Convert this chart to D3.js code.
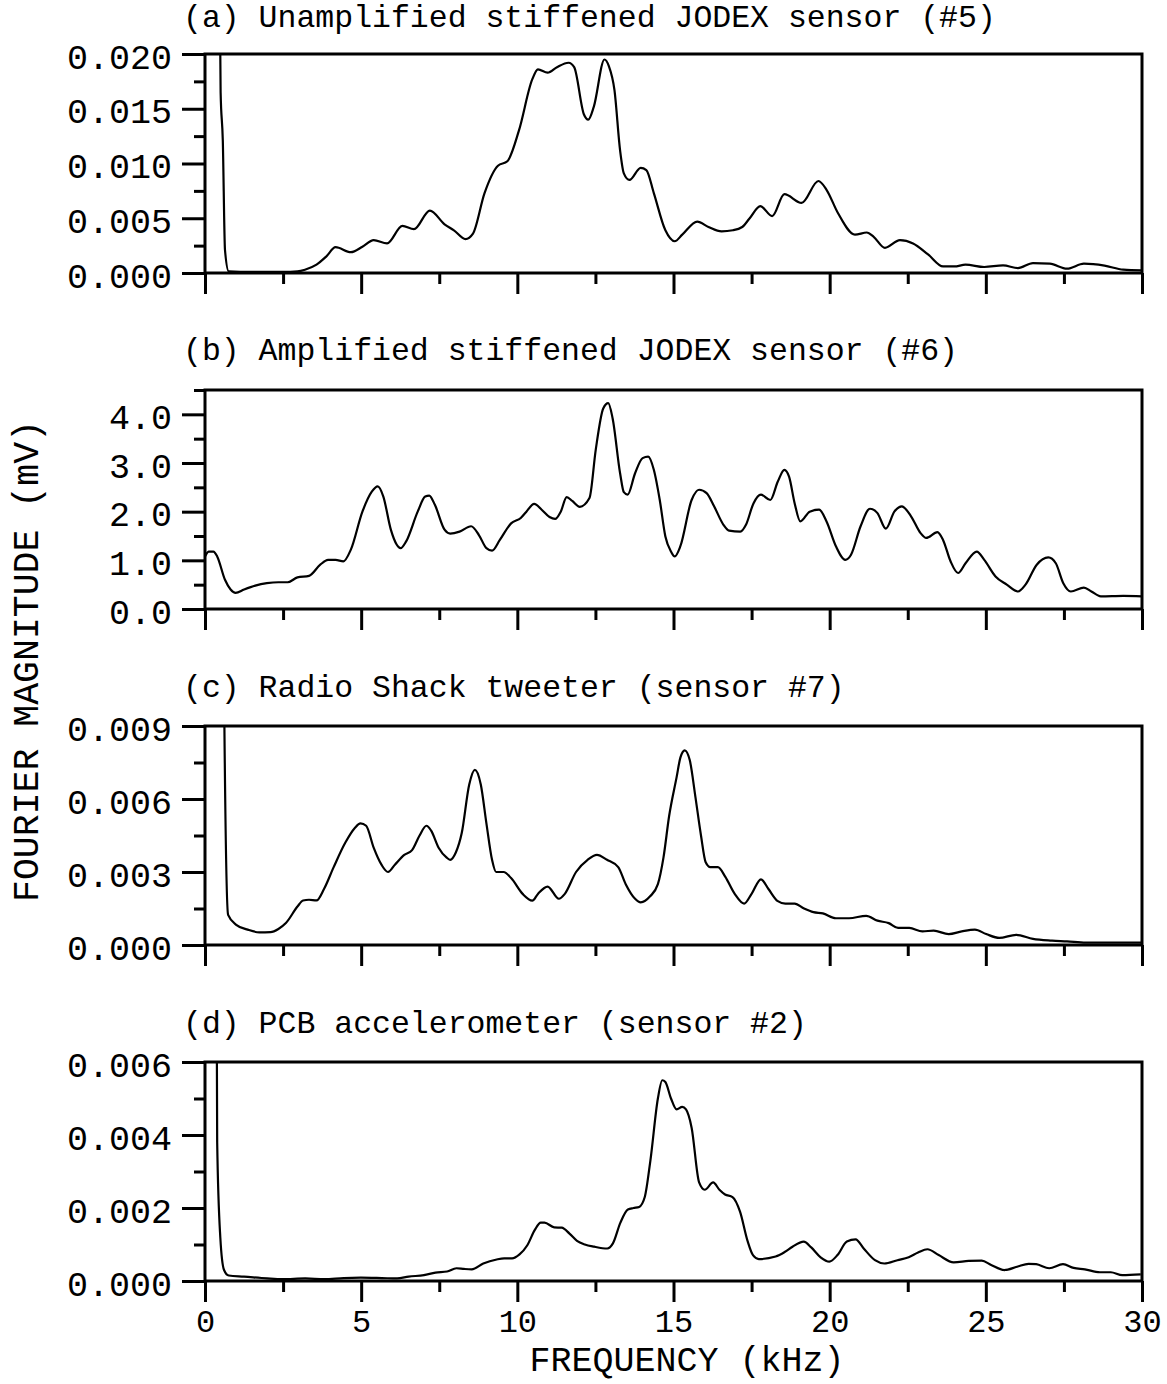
<!DOCTYPE html>
<html><head><meta charset="utf-8">
<script src="https://cdn.jsdelivr.net/npm/d3@7"></script>
<style>body{margin:0;background:#fff} svg{display:block}</style>
</head><body>
<script>
// ---------- data ----------
const titles = [
  "(a) Unamplified stiffened JODEX sensor (#5)",
  "(b) Amplified stiffened JODEX sensor (#6)",
  "(c) Radio Shack tweeter (sensor #7)",
  "(d) PCB accelerometer (sensor #2)"
];
const xLabel = "FREQUENCY (kHz)";
const yLabel = "FOURIER MAGNITUDE (mV)";
const xMajorTicks = [0, 5, 10, 15, 20, 25, 30];
const xMinorTicks = [2.5, 7.5, 12.5, 17.5, 22.5, 27.5];

const yMaxA = 0.020, yMajorA = [0, 0.005, 0.010, 0.015, 0.020], yMinorA = [0.0025, 0.0075, 0.0125, 0.0175];
const yMaxB = 4.5,   yMajorB = [0, 1, 2, 3, 4], yMinorB = [0.5, 1.5, 2.5, 3.5, 4.5];
const yMaxC = 0.009, yMajorC = [0, 0.003, 0.006, 0.009], yMinorC = [0.0015, 0.0045, 0.0075];
const yMaxD = 0.006, yMajorD = [0, 0.002, 0.004, 0.006], yMinorD = [0.001, 0.003, 0.005];

const freqA = [0.40,0.50,0.57,0.64,0.76,1.5,2.5,2.96,3.2,3.57,3.88,4.18,4.67,5.04,5.40,5.83,6.32,6.69,7.20,7.67,7.97,8.34,8.58,8.95,9.38,9.68,10.05,10.48,10.66,10.97,11.27,11.64,11.82,12.13,12.27,12.45,12.79,12.93,13.11,13.29,13.41,13.59,13.95,14.13,14.37,14.74,15.04,15.28,15.76,16.12,16.54,16.9,17.2,17.44,17.78,18.16,18.55,19.1,19.64,19.9,20.26,20.81,21.19,21.41,21.77,22.25,22.67,23.15,23.63,23.99,24.35,24.95,25.55,26.03,26.51,27.05,27.6,28.14,28.8,29.4,30.0];
const magA  = [0.050,0.0165,0.0121,0.0021,0.00015,0.0001,0.0001,0.00015,0.0003,0.00076,0.0015,0.00236,0.0019,0.0024,0.0030,0.0027,0.0043,0.0040,0.0057,0.00445,0.0039,0.0031,0.0036,0.0073,0.0098,0.0102,0.0130,0.0177,0.0186,0.0183,0.0188,0.0192,0.0188,0.0145,0.0140,0.0152,0.0195,0.0189,0.0167,0.0112,0.0091,0.0085,0.0096,0.0094,0.0073,0.0039,0.0029,0.0035,0.0047,0.0042,0.0038,0.0039,0.0042,0.0050,0.0061,0.0052,0.0072,0.0064,0.0084,0.0076,0.0055,0.0035,0.0037,0.0033,0.0023,0.0030,0.0027,0.0017,0.0006,0.0006,0.00076,0.00055,0.0007,0.00045,0.0009,0.00085,0.0004,0.00085,0.00067,0.0003,0.00024];

const freqB = [0,0.12,0.27,0.39,0.64,0.82,0.98,1.25,1.61,1.98,2.35,2.65,2.96,3.33,3.69,3.94,4.18,4.43,4.67,5.04,5.34,5.53,5.71,5.95,6.14,6.26,6.44,6.81,7.05,7.18,7.36,7.67,7.85,8.15,8.52,8.77,9.01,9.19,9.44,9.8,10.11,10.29,10.54,10.78,11.03,11.21,11.39,11.58,11.76,12.0,12.31,12.51,12.75,12.91,13.05,13.29,13.41,13.53,13.77,14.01,14.19,14.37,14.56,14.74,14.92,15.04,15.22,15.58,15.82,16.06,16.3,16.6,16.78,17.14,17.32,17.56,17.8,18.1,18.34,18.55,18.7,18.88,19.06,19.36,19.66,19.9,20.2,20.5,20.68,20.99,21.29,21.53,21.8,22.07,22.31,22.61,22.91,23.09,23.45,23.63,23.87,24.11,24.35,24.71,24.95,25.31,25.67,26.03,26.27,26.63,27.0,27.24,27.48,27.72,28.14,28.38,28.68,29.4,30.0];
const magB  = [1.08,1.18,1.18,1.08,0.60,0.40,0.33,0.40,0.48,0.53,0.55,0.55,0.65,0.68,0.91,1.01,1.01,0.98,1.22,2.0,2.41,2.52,2.31,1.63,1.32,1.25,1.39,2.0,2.31,2.33,2.14,1.63,1.55,1.59,1.70,1.52,1.25,1.20,1.42,1.76,1.87,2.0,2.16,2.04,1.89,1.85,2.0,2.3,2.22,2.1,2.28,3.27,4.12,4.23,3.92,2.79,2.40,2.35,2.79,3.10,3.13,2.86,2.24,1.49,1.18,1.08,1.29,2.24,2.45,2.38,2.11,1.73,1.61,1.59,1.73,2.17,2.35,2.24,2.62,2.86,2.72,2.17,1.80,2.0,2.04,1.80,1.29,1.01,1.11,1.70,2.06,1.97,1.65,2.0,2.11,1.90,1.56,1.46,1.58,1.42,0.98,0.74,0.94,1.18,1.01,0.67,0.50,0.36,0.50,0.91,1.06,0.94,0.53,0.36,0.44,0.36,0.26,0.27,0.26];

const freqC = [0.55,0.6,0.74,1.0,1.37,1.74,2.10,2.35,2.59,2.96,3.14,3.33,3.57,3.81,4.12,4.49,4.79,4.98,5.16,5.40,5.65,5.86,6.08,6.38,6.63,6.87,7.09,7.24,7.48,7.73,7.85,8.03,8.22,8.46,8.64,8.83,9.01,9.19,9.32,9.56,9.8,10.17,10.48,10.66,10.97,11.33,11.52,11.88,12.25,12.55,12.87,13.23,13.47,13.77,13.95,14.25,14.5,14.68,14.86,15.1,15.22,15.36,15.52,15.7,15.88,16.03,16.18,16.42,16.66,16.96,17.26,17.5,17.8,18.04,18.34,18.58,18.88,19.18,19.48,19.78,20.2,20.62,21.17,21.53,21.89,22.19,22.55,22.97,23.33,23.81,24.23,24.65,25.01,25.43,25.97,26.51,27.12,27.6,28.2,28.8,30.0];
const magC  = [0.03,0.012,0.00124,0.00083,0.00063,0.00052,0.00053,0.00066,0.0009,0.00158,0.00183,0.00186,0.00183,0.0023,0.0032,0.0042,0.0048,0.0050,0.0049,0.0040,0.0033,0.0030,0.0033,0.0037,0.0039,0.0045,0.0049,0.0047,0.0040,0.0036,0.0035,0.0038,0.0046,0.0066,0.0072,0.0066,0.0050,0.0035,0.0030,0.0030,0.00275,0.0021,0.00182,0.0021,0.0024,0.0019,0.0021,0.0030,0.0035,0.0037,0.0035,0.0032,0.0025,0.0019,0.00175,0.0020,0.0025,0.0036,0.0053,0.0069,0.0077,0.0080,0.0076,0.0061,0.0045,0.0034,0.0032,0.0032,0.0028,0.0021,0.0017,0.0021,0.0027,0.0023,0.0018,0.0017,0.0017,0.0015,0.00135,0.0013,0.0011,0.0011,0.0012,0.0010,0.0009,0.0007,0.0007,0.00056,0.00059,0.00045,0.00056,0.00063,0.00045,0.00029,0.00042,0.00025,0.00018,0.00015,0.0001,0.0001,0.0001];

const freqD = [0.28,0.39,0.49,0.61,0.76,1.25,1.99,2.48,3.21,3.82,4.44,4.99,5.66,6.15,6.52,7.01,7.38,7.75,8.05,8.3,8.54,8.91,9.34,9.58,9.83,10.07,10.32,10.56,10.75,10.87,11.18,11.42,11.67,11.91,12.16,12.46,12.88,13.06,13.3,13.54,13.72,13.9,14.08,14.26,14.5,14.64,14.74,14.92,15.1,15.28,15.4,15.58,15.82,16.0,16.27,16.47,16.65,16.89,17.13,17.37,17.55,17.73,18.27,18.57,18.81,19.17,19.41,19.71,19.99,20.25,20.55,20.83,21.09,21.45,21.75,22.17,22.53,22.83,23.13,23.49,23.97,24.45,24.87,25.17,25.59,26.0,26.37,26.61,27.03,27.47,27.81,28.17,28.65,29.0,29.37,29.96];
const magD  = [0.03,0.0038,0.0012,0.0003,0.00015,0.00012,0.00007,0.00005,0.00007,0.00005,0.00008,0.00009,0.00008,0.00007,0.00012,0.00016,0.00023,0.00026,0.00035,0.00033,0.00032,0.00048,0.00059,0.00062,0.00062,0.00073,0.00098,0.0014,0.0016,0.0016,0.00147,0.00146,0.0013,0.0011,0.0010,0.00094,0.00089,0.00103,0.0016,0.00196,0.0020,0.00203,0.0023,0.0033,0.0050,0.0055,0.00545,0.0050,0.0047,0.00477,0.0047,0.0042,0.0027,0.0025,0.0027,0.0025,0.00237,0.0023,0.0019,0.0011,0.0007,0.0006,0.00067,0.0008,0.00094,0.00108,0.00092,0.00065,0.00053,0.00071,0.00108,0.00114,0.00089,0.00057,0.00048,0.00057,0.00065,0.00078,0.00087,0.00071,0.00051,0.00055,0.00056,0.00044,0.0003,0.00039,0.00047,0.00046,0.00035,0.00046,0.00036,0.00032,0.00024,0.00024,0.00016,0.00018];

// ---------- layout ----------
const W = 1167, H = 1384;
const left = 205, right = 1142, panelH = 219;
const panelTops = [54, 390, 726, 1062];
const titleGap = [27, 30, 29, 29];
const FONT = "'Liberation Mono','Courier New',monospace";

const panels = [
  {title: titles[0], f: freqA, m: magA, max: yMaxA, major: yMajorA, minor: yMinorA, fmt: d3.format(".3f")},
  {title: titles[1], f: freqB, m: magB, max: yMaxB, major: yMajorB, minor: yMinorB, fmt: d3.format(".1f")},
  {title: titles[2], f: freqC, m: magC, max: yMaxC, major: yMajorC, minor: yMinorC, fmt: d3.format(".3f")},
  {title: titles[3], f: freqD, m: magD, max: yMaxD, major: yMajorD, minor: yMinorD, fmt: d3.format(".3f")}
];

const svg = d3.select("body").append("svg").attr("width", W).attr("height", H)
  .style("font-family", FONT);

const x = d3.scaleLinear().domain([0, 30]).range([left, right]);

panels.forEach((p, i) => {
  const top = panelTops[i], bottom = top + panelH;
  const y = d3.scaleLinear().domain([0, p.max]).range([bottom, top]);
  const g = svg.append("g");

  const cid = "clip" + i;
  svg.append("clipPath").attr("id", cid).append("rect")
    .attr("x", left).attr("y", top).attr("width", right - left).attr("height", panelH);

  g.append("text").attr("x", 183).attr("y", top - titleGap[i])
    .style("font-size", "31.5px").attr("fill", "#000").text(p.title);

  const yMaj = g.append("g").attr("transform", `translate(${left},0)`)
    .call(d3.axisLeft(y).tickValues(p.major).tickSize(23).tickPadding(10).tickFormat(p.fmt));
  yMaj.select(".domain").remove();
  yMaj.selectAll("line").attr("stroke", "#000").attr("stroke-width", 3);
  yMaj.selectAll("text").style("font-size", "35px").style("font-family", FONT)
    .attr("fill", "#000").attr("y", 3);
  const yMin = g.append("g").attr("transform", `translate(${left},0)`)
    .call(d3.axisLeft(y).tickValues(p.minor).tickSize(11).tickFormat(""));
  yMin.select(".domain").remove();
  yMin.selectAll("line").attr("stroke", "#000").attr("stroke-width", 3);

  const xMaj = g.append("g").attr("transform", `translate(0,${bottom})`)
    .call(d3.axisBottom(x).tickValues(xMajorTicks).tickSize(21).tickPadding(7)
      .tickFormat(i === 3 ? d3.format("d") : ""));
  xMaj.select(".domain").remove();
  xMaj.selectAll("line").attr("stroke", "#000").attr("stroke-width", 3);
  xMaj.selectAll("text").style("font-size", "32px").style("font-family", FONT).attr("fill", "#000");
  const xMin = g.append("g").attr("transform", `translate(0,${bottom})`)
    .call(d3.axisBottom(x).tickValues(xMinorTicks).tickSize(11).tickFormat(""));
  xMin.select(".domain").remove();
  xMin.selectAll("line").attr("stroke", "#000").attr("stroke-width", 3);

  const data = p.f.map((f, k) => [f, p.m[k]]);
  g.append("path").datum(data)
    .attr("clip-path", `url(#${cid})`)
    .attr("fill", "none").attr("stroke", "#000").attr("stroke-width", 2.2)
    .attr("stroke-linejoin", "round")
    .attr("d", d3.line().x(d => x(d[0])).y(d => y(d[1])).curve(d3.curveMonotoneX));

  g.append("rect").attr("x", left).attr("y", top).attr("width", right - left).attr("height", panelH)
    .attr("fill", "none").attr("stroke", "#000").attr("stroke-width", 3);
});

svg.append("text").attr("x", 687).attr("y", 1371).attr("text-anchor", "middle")
  .style("font-size", "35px").attr("fill", "#000").text(xLabel);
svg.append("text").attr("transform", "translate(38,661) rotate(-90)").attr("text-anchor", "middle")
  .style("font-size", "36.5px").attr("fill", "#000").text(yLabel);
</script>
</body></html>
